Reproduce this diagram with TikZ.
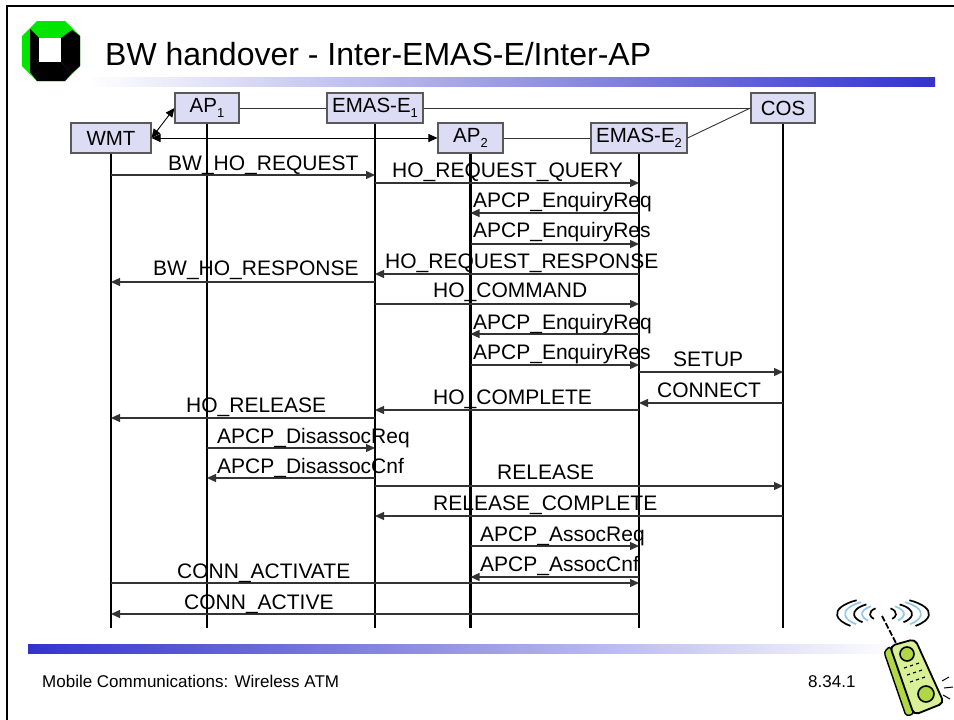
\documentclass[tikz,border=0pt]{standalone}
\usepackage{fontspec}
\setmainfont{Liberation Sans}
\usetikzlibrary{arrows.meta}
\definecolor{boxfill}{RGB}{220,220,245}
\definecolor{barblue}{RGB}{51,51,204}
\definecolor{logogreen}{RGB}{0,230,0}
\definecolor{phonegreen}{RGB}{218,240,150}
\definecolor{phonedark}{RGB}{175,215,70}
\definecolor{waveblue}{RGB}{150,200,235}
\newcommand{\sub}[1]{\raisebox{-4.5pt}{\fontsize{13}{13}\selectfont #1}}
\begin{document}
\begin{tikzpicture}[x=1pt,y=-1pt,
  box/.style={draw=black!65, line width=1.1pt, fill=boxfill, minimum height=30pt,
              inner sep=0pt, font=\fontsize{20.5}{24}\selectfont},
  life/.style={line width=2.2pt, black},
  msg/.style={line width=1.3pt, draw=black!80, -{Triangle[length=9pt,width=8pt]}},
  link/.style={line width=0.9pt, draw=black!80},
  duplex/.style={line width=0.9pt, draw=black,
                 {Triangle[length=9pt,width=8pt]}-{Triangle[length=9pt,width=8pt]}},
  lbl/.style={anchor=base west, inner sep=0pt, font=\fontsize{21}{24}\selectfont},
  foottext/.style={anchor=base west, inner sep=0pt, font=\fontsize{17}{20}\selectfont},
]
\useasboundingbox (0,0) rectangle (954,720);
\clip (0,0) rectangle (954,720);
\fill[white] (0,0) rectangle (954,720);

% slide frame
\draw[line width=2pt] (7,740) -- (7,6) -- (970,6);

% logo
\fill[logogreen] (37,21) -- (65,21) -- (80,36) -- (80,66) -- (65,81) -- (37,81) -- (22,66) -- (22,36) -- cycle;
\fill[black] (30,29) -- (39,38) -- (39,62) -- (30,72) -- cycle;
\fill[black] (30,72) -- (39,62) -- (61,62) -- (72,73) -- (65,81) -- (37,81) -- cycle;
\fill[black] (72,73) -- (61,62) -- (61,38) -- (72,30) -- (80,36) -- (80,66) -- cycle;
\fill[white] (39,38) rectangle (61,62);

% title and bars
\node[anchor=base west, inner sep=0pt, font=\fontsize{32}{38}\selectfont] (title) at (105,65)
  {BW handover - Inter-EMAS-E/Inter-AP};
\shade[left color=white, right color=barblue] (87,77) rectangle (935,86);
\shade[left color=barblue, right color=white] (28,644) rectangle (900,653);

% entities
\node[box, minimum width=80pt] (wmt)   at (111,138) {WMT};
\node[box, minimum width=64pt] (ap1)   at (207,108) {AP\sub{1}};
\node[box, minimum width=96pt] (emas1) at (375,108) {EMAS-E\sub{1}};
\node[box, minimum width=65pt] (ap2)   at (470.5,138) {AP\sub{2}};
\node[box, minimum width=96pt] (emas2) at (639,138) {EMAS-E\sub{2}};
\node[box, minimum width=64pt] (cos)   at (783,108) {COS};

% network links
\draw[link] (ap1.east) -- (emas1.west);
\draw[link] (emas1.east) -- (cos.west);
\draw[link] (ap2.east) -- (emas2.west);
\draw[link] (emas2.east) -- (cos.west);
\draw[duplex] (wmt.east) -- (ap1.west);
\draw[duplex] (wmt.east) -- (ap2.west);

% lifelines
\foreach \n in {wmt,ap1,emas1,ap2,emas2,cos}
  \draw[life] (\n.south) -- (\n.south |- 0,628);

% messages: from, to, arrow y
\draw[msg] (wmt   |- 0,175) -- (emas1 |- 0,175);
\draw[msg] (emas1 |- 0,183) -- (emas2 |- 0,183);
\draw[msg] (emas2 |- 0,213) -- (ap2   |- 0,213);
\draw[msg] (ap2   |- 0,244) -- (emas2 |- 0,244);
\draw[msg] (emas2 |- 0,274) -- (emas1 |- 0,274);
\draw[msg] (emas1 |- 0,282) -- (wmt   |- 0,282);
\draw[msg] (emas1 |- 0,304) -- (emas2 |- 0,304);
\draw[msg] (emas2 |- 0,334) -- (ap2   |- 0,334);
\draw[msg] (ap2   |- 0,365) -- (emas2 |- 0,365);
\draw[msg] (emas2 |- 0,372) -- (cos   |- 0,372);
\draw[msg] (cos   |- 0,403) -- (emas2 |- 0,403);
\draw[msg] (emas2 |- 0,410) -- (emas1 |- 0,410);
\draw[msg] (emas1 |- 0,418) -- (wmt   |- 0,418);
\draw[msg] (ap1   |- 0,448) -- (emas1 |- 0,448);
\draw[msg] (emas1 |- 0,478) -- (ap1   |- 0,478);
\draw[msg] (emas1 |- 0,486) -- (cos   |- 0,486);
\draw[msg] (cos   |- 0,516) -- (emas1 |- 0,516);
\draw[msg] (ap2   |- 0,546) -- (emas2 |- 0,546);
\draw[msg] (emas2 |- 0,577) -- (ap2   |- 0,577);
\draw[msg] (wmt   |- 0,583) -- (emas2 |- 0,583);
\draw[msg] (emas2 |- 0,614) -- (wmt   |- 0,614);

% message labels
\node[lbl] (l1)  at (168,170) {BW\_HO\_REQUEST};
\node[lbl] (l2)  at (392,177) {HO\_REQUEST\_QUERY};
\node[lbl] (l3)  at (473,207) {APCP\_EnquiryReq};
\node[lbl] (l4)  at (473,237) {APCP\_EnquiryRes};
\node[lbl] (l5)  at (385,268) {HO\_REQUEST\_RESPONSE};
\node[lbl] (l6)  at (153,275) {BW\_HO\_RESPONSE};
\node[lbl] (l7)  at (433,297) {HO\_COMMAND};
\node[lbl] (l8)  at (473,329) {APCP\_EnquiryReq};
\node[lbl] (l9)  at (473,359) {APCP\_EnquiryRes};
\node[lbl] (l10) at (673,366) {SETUP};
\node[lbl] (l11) at (657,397) {CONNECT};
\node[lbl] (l12) at (433,404) {HO\_COMPLETE};
\node[lbl] (l13) at (186,412) {HO\_RELEASE};
\node[lbl] (l14) at (217,443) {APCP\_DisassocReq};
\node[lbl] (l15) at (217,473) {APCP\_DisassocCnf};
\node[lbl] (l16) at (497,479) {RELEASE};
\node[lbl] (l17) at (433,510) {RELEASE\_COMPLETE};
\node[lbl] (l18) at (480,541) {APCP\_AssocReq};
\node[lbl] (l19) at (480,571) {APCP\_AssocCnf};
\node[lbl] (l20) at (177,578) {CONN\_ACTIVATE};
\node[lbl] (l21) at (184,609) {CONN\_ACTIVE};

% footer
\node[foottext] (foot) at (42,687) {Mobile Communications: Wireless ATM};
\node[foottext] (page) at (808,687) {8.34.1};

% phone: radio waves around the antenna tip
\foreach \r/\c in {13/black, 21/waveblue, 29/black, 38/waveblue, 46/black}{
  \draw[\c, line width=1.7pt] (883,614) ++(125:\r pt and 0.3*\r pt+3pt)
    arc[start angle=125, end angle=225, x radius=\r pt, y radius=0.3*\r pt+3pt];
  \draw[\c, line width=1.7pt] (883,614) ++(55:\r pt and 0.3*\r pt+3pt)
    arc[start angle=55, end angle=-45, x radius=\r pt, y radius=0.3*\r pt+3pt];
}
% antenna
\draw[line width=1.8pt, dash pattern=on 6pt off 2pt] (882,616) -- (896,643);
% body with darker side face
\fill[phonedark, draw=black, line width=1.4pt, rounded corners=3pt]
  (884,652) -- (890,646) -- (914,714) -- (906,716) -- cycle;
\fill[phonegreen, draw=black, line width=1.8pt, rounded corners=5pt]
  (890,646) -- (915,639) -- (944,703) -- (914,715) -- cycle;
\draw[fill=phonedark, line width=1.6pt] (907,654) circle (7pt);
\draw[fill=phonedark, line width=1.6pt] (926,694) circle (8pt);
\foreach \px/\py in {904/668, 910/666, 916/664, 907/675, 913/673, 919/671, 910/682, 916/680, 922/678}
  \draw[line width=1.1pt] (\px,\py) -- ++(3,-1);
% ringing marks
\draw[line width=1pt] (942,681) -- (949,677);
\draw[line width=1pt] (944,688) -- (953,687);
\draw[line width=1pt] (943,695) -- (950,699);
\end{tikzpicture}
\end{document}
